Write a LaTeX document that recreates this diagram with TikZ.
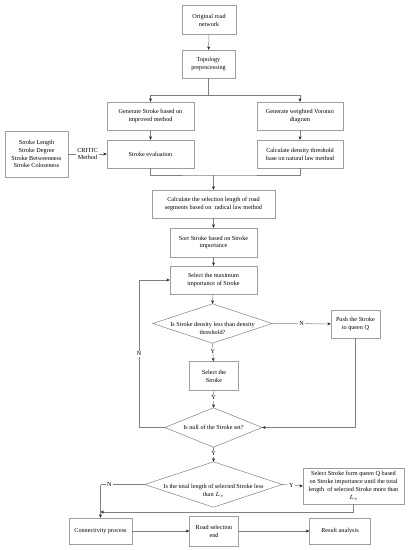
\documentclass[tikz,border=0pt]{standalone}
\usepackage{fontspec}
\setmainfont{Liberation Serif}
\usetikzlibrary{arrows.meta}

\tikzset{
  box/.style={draw=black!38, fill=white, align=center, inner sep=1pt,
    font=\fontsize{6.2}{7.8}\selectfont},
  choice/.style={align=center, inner sep=0pt, font=\fontsize{6.2}{7.8}\selectfont},
  line/.style={draw=black!50, line width=0.5pt},
  arr/.style={line, -{Stealth[length=3.5pt,width=3pt,color=black!85]}},
  tag/.style={fill=white, inner sep=1pt, font=\fontsize{6.2}{7.8}\selectfont},
}

\begin{document}
\begin{tikzpicture}[x=1pt, y=-1pt]
  \useasboundingbox[fill=white] (0,0) rectangle (408,550);

  % boxes
  \node[box, minimum width=54pt, minimum height=29pt] (orig) at (209,20) {Original road\\network};
  \node[box, minimum width=53pt, minimum height=28pt] (topo) at (208.5,64) {Topology\\preprocessing};
  \node[box, minimum width=87pt, minimum height=28pt] (gen) at (150.5,116) {Generate Stroke based on\\improved method};
  \node[box, minimum width=86pt, minimum height=28pt] (voro) at (300,116) {Generate weighted Voronoi\\diagram};
  \node[box, minimum width=63pt, minimum height=46pt] (fact) at (36.5,154) {Stroke Length\\Stroke Degree\\Stroke Betweenness\\Stroke Coloseness};
  \node[box, minimum width=87pt, minimum height=28pt] (eval) at (150.5,154) {Stroke evaluation};
  \node[box, minimum width=86pt, minimum height=28pt] (dens) at (300,154) {Calculate density threshold\\base on natural law method};
  \node[box, minimum width=123pt, minimum height=28pt] (calc) at (213.5,204) {Calculate the selection length of road\\segments based on ~radical law method};
  \node[box, minimum width=87pt, minimum height=29pt] (sort) at (213.5,242.5) {Sort Stroke based on Stroke\\importance};
  \node[box, minimum width=87pt, minimum height=28pt] (selmax) at (213.5,280) {Select the maximum\\importance of Stroke};
  \node[box, minimum width=49pt, minimum height=28pt] (push) at (355.5,324) {Push the Stroke\\to queen Q};
  \node[box, minimum width=49pt, minimum height=29pt] (sel) at (214,376) {Select the\\Stroke};
  \node[box, minimum width=101pt, minimum height=36pt] (selQ) at (353.5,486) {Select Stroke form queen Q based\\on Stroke importance until the total\\length ~of selected Stroke more than\\$L_s$};
  \node[box, minimum width=63pt, minimum height=26pt] (conn) at (100.5,531) {Connectivity process};
  \node[box, minimum width=49pt, minimum height=30pt] (end) at (214,531) {Road selection\\end};
  \node[box, minimum width=61pt, minimum height=26pt] (res) at (340,531) {Result analysis};

  % decisions (text sits a little below the middle)
  \node[choice, minimum width=119pt, minimum height=39pt,
    label={[choice, yshift=-4.5pt]center:Is Stroke density less than density\\threshold?}] (dA) at (212.5,323.5) {};
  \node[choice, minimum width=97pt, minimum height=39pt] (dB) at (213.5,427.5) {Is null of the Stroke set?};
  \node[choice, minimum width=137pt, minimum height=45pt,
    label={[choice, yshift=-6pt]center:Is the total length of selected Stroke less\\than $L_s$}] (dC) at (213.5,484.5) {};
  \foreach \d in {dA,dB,dC}
    \draw[line] (\d.west) -- (\d.north) -- (\d.east) -- (\d.south) -- cycle;

  % connectors
  \draw[arr] (orig) -- (topo);
  \coordinate (split) at (208.5,95);
  \draw[line] (topo.south) -- (split);
  \draw[line] (gen.north |- split) -- (voro.north |- split);
  \draw[arr] (gen.north |- split) -- (gen.north);
  \draw[arr] (voro.north |- split) -- (voro.north);
  \draw[arr] (gen) -- (eval);
  \draw[arr] (voro) -- (dens);
  \draw[arr] (fact) -- node[tag, align=center] {CRITIC\\Method} (eval);

  \coordinate (join) at (213.5,175);
  \draw[line] (eval.south) |- (join) -| (dens.south);
  \draw[arr] (join) -- (calc.north);
  \draw[arr] (calc) -- (sort);
  \draw[arr] (sort) -- (selmax);
  \draw[arr] (selmax) -- (dA.north);

  \draw[arr] (dA.east) -- node[tag, pos=0.5] {N} (push);
  \draw[arr] (dA.south) -- node[tag, pos=0.45] {Y} (sel);
  \draw[arr] (sel) -- node[tag, pos=0.4] {Y} (dB.north);
  \draw[arr] (push.south) |- (dB.east);

  \coordinate (loop) at (139,427.5);
  \draw[line] (dB.west) -- (loop);
  \draw[arr] (loop) |- node[tag, pos=0.25] {N} (selmax.west);

  \draw[arr] (dB.south) -- node[tag, pos=0.45] {Y} (dC.north);
  \draw[arr] (dC.east) -- node[tag, pos=0.45] {Y} (selQ.west);

  \coordinate (back) at (100.5,512);
  \draw[line] (dC.west) -- node[tag, pos=0.8] {N} (dC.west -| conn.north);
  \draw[arr] (dC.west -| conn.north) -- (conn.north);
  \draw[arr] (selQ.south) |- (back);

  \draw[arr] (conn) -- (end);
  \draw[arr] (end) -- (res);
\end{tikzpicture}
\end{document}
